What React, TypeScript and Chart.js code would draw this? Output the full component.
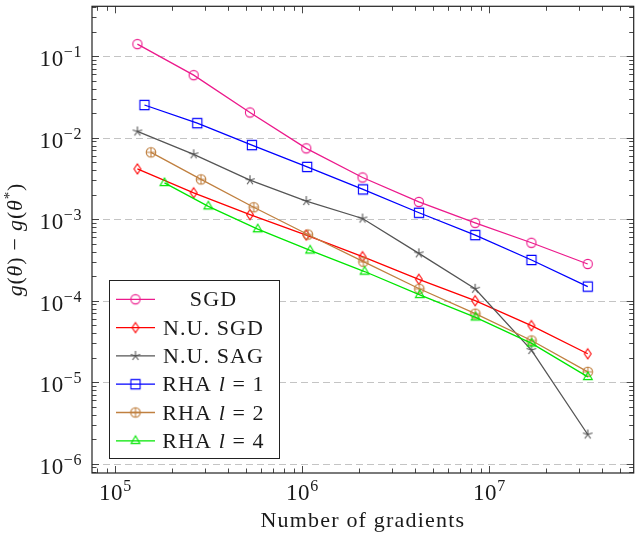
import React, { useEffect, useRef } from "react";
import { Chart, registerables } from "chart.js";

Chart.register(...registerables);

// ---------------- data ----------------
const xBase = [131072, 262144, 524288, 1048576, 2097152, 4194304, 8388608, 16777216, 33554432];
const xRha1 = [143000, 274000, 537000, 1060000, 2110000, 4205000, 8400000, 16790000, 33570000];
const xRha2 = [155000, 287000, 549000, 1070000, 2120000, 4216000, 8410000, 16800000, 33580000];
const xRha4 = [183000, 314000, 577000, 1100000, 2150000, 4242000, 8436000, 16825000, 33600000];

const sgd = [0.141, 0.0586, 0.0204, 0.00741, 0.00325, 0.00163, 0.000902, 0.000514, 0.000282];
const nuSgd = [0.00414, 0.00211, 0.00114, 0.000638, 0.000347, 0.000183, 0.0001, 0.0000495, 0.0000223];
const nuSag = [0.01194, 0.00626, 0.00301, 0.00167, 0.00102, 0.000381, 0.00014, 0.0000248, 0.00000228];
const rha1 = [0.0252, 0.0151, 0.00812, 0.00438, 0.00232, 0.0012, 0.000638, 0.000316, 0.000149];
const rha2 = [0.00662, 0.00308, 0.0014, 0.000649, 0.000301, 0.00014, 0.0000693, 0.0000325, 0.0000134];
const rha4 = [0.00279, 0.00144, 0.000755, 0.000414, 0.000228, 0.000118, 0.0000625, 0.0000299, 0.0000116];

const xMajorExps = [5, 6, 7];
const yMajorExps = [-6, -5, -4, -3, -2, -1];

const X_MIN = 74960;
const X_MAX = 5.91e7;
const Y_MIN = 7.68e-7;
const Y_MAX = 0.41;

const seriesNames = ["SGD", "N.U. SGD", "N.U. SAG", "RHA l = 1", "RHA l = 2", "RHA l = 4"];
const seriesColors = ["#ec1a8c", "#ff0000", "#555555", "#0000ff", "#c08040", "#00e600"];
const seriesMarkers = ["circle", "diamond", "star", "square", "oplus", "triangle"];

const SERIF = '"Liberation Serif", "Times New Roman", serif';

function makeMarker(kind: string, color: string): HTMLCanvasElement {
  const c = document.createElement("canvas");
  c.width = 16;
  c.height = 16;
  const g = c.getContext("2d")!;
  g.strokeStyle = color;
  g.lineWidth = 1.1;
  g.translate(8, 8);
  g.beginPath();
  if (kind === "circle") {
    g.arc(0, 0, 4.6, 0, Math.PI * 2);
  } else if (kind === "diamond") {
    g.moveTo(0, -5);
    g.lineTo(3.4, 0);
    g.lineTo(0, 5);
    g.lineTo(-3.4, 0);
    g.closePath();
  } else if (kind === "star") {
    for (let k = 0; k < 5; k++) {
      const a = -Math.PI / 2 + (k * 2 * Math.PI) / 5;
      g.moveTo(0, 0);
      g.lineTo(5 * Math.cos(a), 5 * Math.sin(a));
    }
  } else if (kind === "square") {
    g.rect(-4.6, -4.6, 9.2, 9.2);
  } else if (kind === "oplus") {
    g.arc(0, 0, 4.8, 0, Math.PI * 2);
    g.moveTo(-4.8, 0);
    g.lineTo(4.8, 0);
    g.moveTo(0, -4.8);
    g.lineTo(0, 4.8);
  } else if (kind === "triangle") {
    g.moveTo(0, -5);
    g.lineTo(4.4, 2.6);
    g.lineTo(-4.4, 2.6);
    g.closePath();
  }
  g.stroke();
  return c;
}

type Piece = { t: string; it?: boolean; sup?: boolean };

function drawPieces(ctx: CanvasRenderingContext2D, pieces: Piece[], x: number, y: number, size: number, supSize: number, supRaise: number, align: "left" | "center" | "right", spacing = 0) {
  const fontOf = (p: Piece) => `${p.it ? "italic " : ""}${p.sup ? supSize : size}px ${SERIF}`;
  let total = 0;
  const widths: number[] = [];
  for (const p of pieces) {
    ctx.font = fontOf(p);
    const w = ctx.measureText(p.t).width + spacing * p.t.length;
    widths.push(w);
    total += w;
  }
  let cx = align === "left" ? x : align === "center" ? x - total / 2 : x - total;
  ctx.textAlign = "left";
  ctx.textBaseline = "alphabetic";
  pieces.forEach((p, i) => {
    ctx.font = fontOf(p);
    if (spacing) {
      let px = cx;
      for (const ch of p.t) {
        ctx.fillText(ch, px, p.sup ? y - supRaise : y);
        px += ctx.measureText(ch).width + spacing;
      }
    } else {
      ctx.fillText(p.t, cx, p.sup ? y - supRaise : y);
    }
    cx += widths[i];
  });
  return total;
}

function legendPieces(name: string): Piece[] {
  const m = name.match(/^RHA l = (\d)$/);
  if (m) {
    return [{ t: "RHA " }, { t: "l", it: true }, { t: " = " + m[1] }];
  }
  return [{ t: name }];
}

export default function App() {
  const ref = useRef<HTMLCanvasElement>(null);

  useEffect(() => {
    document.body.style.margin = "0";
    const canvas = ref.current!;
    const markers = seriesMarkers.map((k, i) => makeMarker(k, seriesColors[i]));
    const xs = [xBase, xBase, xBase, xRha1, xRha2, xRha4];
    const ys = [sgd, nuSgd, nuSag, rha1, rha2, rha4];

    const decor = {
      id: "decor",
      beforeDatasetsDraw(chart: any) {
        const { ctx, chartArea } = chart;
        const ys = chart.scales.y;
        ctx.save();
        ctx.strokeStyle = "#c4c4c4";
        ctx.lineWidth = 1;
        ctx.setLineDash([7, 4]);
        for (const e of yMajorExps) {
          const py = Math.round(ys.getPixelForValue(Math.pow(10, e))) + 0.5;
          ctx.beginPath();
          ctx.moveTo(chartArea.left, py);
          ctx.lineTo(chartArea.right, py);
          ctx.stroke();
        }
        ctx.restore();
      },
      afterDatasetsDraw(chart: any) {
        const { ctx, chartArea } = chart;
        const { left, right, top, bottom } = chartArea;
        const xs = chart.scales.x;
        const ysc = chart.scales.y;
        ctx.save();
        // ticks
        ctx.strokeStyle = "#333";
        ctx.lineWidth = 0.9;
        ctx.setLineDash([]);
        for (let e = 4; e <= 7; e++) {
          for (let k = 1; k <= 9; k++) {
            const v = k * Math.pow(10, e);
            if (v < X_MIN || v > X_MAX) continue;
            const px = Math.round(xs.getPixelForValue(v)) + 0.5;
            const len = k === 1 ? 7 : 4.5;
            ctx.beginPath();
            ctx.moveTo(px, bottom);
            ctx.lineTo(px, bottom - len);
            ctx.moveTo(px, top);
            ctx.lineTo(px, top + len);
            ctx.stroke();
          }
        }
        for (let e = -7; e <= -1; e++) {
          for (let k = 1; k <= 9; k++) {
            const v = k * Math.pow(10, e);
            if (v < Y_MIN || v > Y_MAX) continue;
            const py = Math.round(ysc.getPixelForValue(v)) + 0.5;
            const len = k === 1 ? 7 : 4.5;
            ctx.beginPath();
            ctx.moveTo(left, py);
            ctx.lineTo(left + len, py);
            ctx.moveTo(right, py);
            ctx.lineTo(right - len, py);
            ctx.stroke();
          }
        }
        // frame
        ctx.strokeStyle = "#222";
        ctx.lineWidth = 1.2;
        ctx.strokeRect(left, top, right - left, bottom - top);

        // tick labels
        ctx.fillStyle = "#1a1a1a";
        for (const e of yMajorExps) {
          const py = ysc.getPixelForValue(Math.pow(10, e));
          drawPieces(ctx, [{ t: "10" }, { t: "\u2212" + Math.abs(e), sup: true }], left - 10, py + 10, 23, 16, 9, "right", 0.6);
        }
        for (const e of xMajorExps) {
          const px = xs.getPixelForValue(Math.pow(10, e));
          drawPieces(ctx, [{ t: "10" }, { t: String(e), sup: true }], px, 500, 23, 16, 9, "center", 0.6);
        }

        // axis titles
        ctx.fillStyle = "#1a1a1a";
        drawPieces(ctx, [{ t: "Number of gradients" }], (left + right) / 2, 527, 22, 15, 0, "center", 1.2);

        ctx.save();
        ctx.translate(16, (top + bottom) / 2);
        ctx.rotate(-Math.PI / 2);
        drawPieces(
          ctx,
          [
            { t: "g", it: true },
            { t: "(" },
            { t: "\u03b8", it: true },
            { t: ")" },
            { t: " \u2212 " },
            { t: "g", it: true },
            { t: "(" },
            { t: "\u03b8", it: true },
            { t: "*", sup: true },
            { t: ")" },
          ],
          0,
          6,
          22,
          15,
          8,
          "center",
          0.8
        );
        ctx.restore();

        // legend
        const lx0 = 109.5, ly0 = 280.5, lx1 = 279.5, ly1 = 458.5;
        ctx.fillStyle = "#ffffff";
        ctx.fillRect(lx0, ly0, lx1 - lx0, ly1 - ly0);
        ctx.strokeStyle = "#222";
        ctx.lineWidth = 1;
        ctx.strokeRect(lx0, ly0, lx1 - lx0, ly1 - ly0);
        seriesNames.forEach((name, i) => {
          const cy = 299.3 + i * 28.3;
          ctx.strokeStyle = seriesColors[i];
          ctx.lineWidth = 1.3;
          ctx.beginPath();
          ctx.moveTo(116, cy);
          ctx.lineTo(155, cy);
          ctx.stroke();
          const m = markers[i];
          ctx.drawImage(m, 135.5 - m.width / 2, cy - m.height / 2);
          ctx.fillStyle = "#1a1a1a";
          drawPieces(ctx, legendPieces(name), 213.5, cy + 7, 22, 15, 0, "center", 1.1);
        });
        ctx.restore();
      },
    };

    const chart = new Chart(canvas, {
      type: "line",
      data: {
        datasets: seriesNames.map((name, i) => ({
          label: name,
          data: xs[i].map((x, j) => ({ x, y: ys[i][j] })),
          borderColor: seriesColors[i],
          backgroundColor: seriesColors[i],
          borderWidth: 1.3,
          pointStyle: markers[i] as any,
          pointRadius: 5,
          pointHoverRadius: 5,
          tension: 0,
          fill: false,
          order: 5 - i,
        })),
      },
      options: {
        responsive: false,
        animation: false,
        devicePixelRatio: 1,
        layout: { padding: { left: 92, right: 2, top: 3, bottom: 63 } },
        plugins: { legend: { display: false }, tooltip: { enabled: false } },
        events: [],
        scales: {
          x: { type: "logarithmic", min: X_MIN, max: X_MAX, display: false },
          y: { type: "logarithmic", min: Y_MIN, max: Y_MAX, display: false },
        },
      },
      plugins: [decor],
    });
    return () => chart.destroy();
  }, []);

  return <canvas ref={ref} width={640} height={536} style={{ display: "block", width: 640, height: 536 }} />;
}
